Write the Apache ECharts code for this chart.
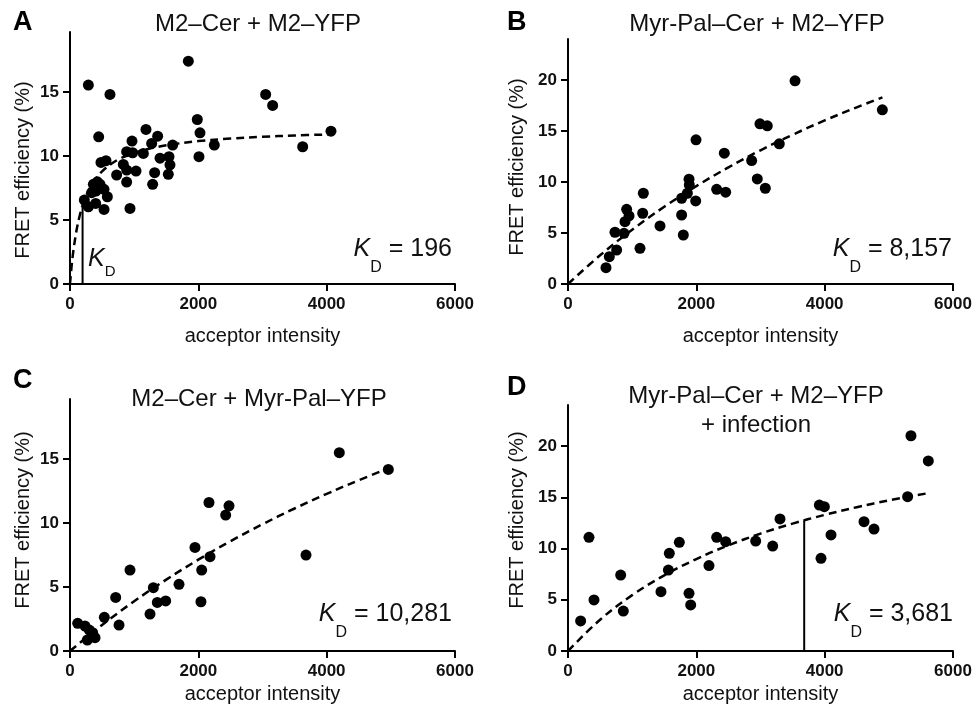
<!DOCTYPE html>
<html>
<head>
<meta charset="utf-8">
<script src="https://cdn.jsdelivr.net/npm/echarts@6/dist/echarts.min.js"></script>
<style>
html,body{margin:0;padding:0;background:#fff;}
#chart{width:976px;height:711px;}
</style>
</head>
<body>
<div id="chart"></div>
<script>
// ---------------- DATA ----------------
const panelLetters = ['A', 'B', 'C', 'D'];
const panelTitles = ['M2\u2013Cer + M2\u2013YFP', 'Myr-Pal\u2013Cer + M2\u2013YFP', 'M2\u2013Cer + Myr-Pal\u2013YFP', 'Myr-Pal\u2013Cer + M2\u2013YFP\n+ infection'];
const kdLabels = ['196', '8,157', '10,281', '3,681'];
const xTicks = [0, 2000, 4000, 6000];
const yTicksAC = [0, 5, 10, 15];
const yTicksBD = [0, 5, 10, 15, 20];
const xAxisTitle = 'acceptor intensity';
const yAxisTitle = 'FRET efficiency (%)';

// acceptor intensity, FRET efficiency (%)
const pointsA = [
  [286,15.55],[623,14.82],[1844,17.42],[3049,14.82],[3158,13.96],[4067,11.95],[3626,10.73],
  [1984,12.86],[2026,11.82],[2010,9.95],[2249,10.86],[1600,10.86],[1543,9.95],[1558,9.32],
  [1532,8.57],[1403,9.84],[1366,11.56],[1273,10.99],[1184,12.08],[1143,10.21],[1319,8.70],
  [1288,7.79],[966,11.17],[976,10.26],[883,10.34],[1029,8.83],[831,9.35],[883,8.91],
  [727,8.52],[883,7.97],[935,5.91],[447,11.51],[483,9.50],[561,9.64],[530,5.83],
  [582,6.82],[530,7.40],[468,7.79],[364,7.79],[405,7.27],[338,7.14],[400,6.30],
  [286,6.04],[223,6.56],[426,7.99]
];
const pointsB = [
  [592,1.6],[644,2.68],[758,3.33],[732,5.07],[873,4.97],[888,6.11],[914,7.32],[951,6.67],
  [1122,3.5],[1164,6.93],[1174,8.89],[1434,5.69],[1771,6.76],[1797,4.8],[1771,8.4],
  [1860,8.89],[1891,9.71],[1886,10.26],[1990,8.14],[1995,14.12],[2317,9.28],[2457,8.99],
  [2436,12.81],[2862,12.09],[2950,10.29],[3075,9.38],[2992,15.69],[3106,15.49],[3293,13.73],
  [3538,19.9],[4899,17.06]
];
const pointsC = [
  [120,2.16],[234,1.95],[301,1.64],[353,1.43],[270,0.86],[390,1.04],[535,2.63],[712,4.19],
  [764,2.03],[935,6.33],[1247,2.89],[1299,4.95],[1361,3.8],[1491,3.91],[1699,5.21],
  [1948,8.1],[2052,6.33],[2041,3.85],[2182,7.37],[2166,11.61],[2426,10.63],[2478,11.35],
  [3678,7.5],[4197,15.5],[4961,14.19]
];
const pointsD = [
  [197,2.93],[327,11.09],[405,4.98],[821,7.41],[862,3.9],[1449,5.79],[1564,7.9],[1579,9.53],
  [1735,10.6],[1886,5.63],[1912,4.49],[2197,8.33],[2317,11.09],[2457,10.67],[2925,10.73],
  [3190,10.24],[3304,12.88],[3917,14.24],[3995,14.08],[3943,9.04],[4099,11.32],[4613,12.62],
  [4769,11.9],[5293,15.06],[5345,21.0],[5615,18.54]
];

// dashed saturation-fit curves
const curveA = [
  [0,0],[25,1.39],[50,2.49],[100,4.14],[150,5.32],[196,6.13],[250,6.87],[300,7.42],[400,8.23],
  [500,8.81],[650,9.42],[800,9.85],[1000,10.25],[1200,10.54],[1500,10.84],[2000,11.17],
  [2500,11.37],[3000,11.51],[3500,11.61],[4100,11.70]
];
const curveB = [
  [0,0],[500,2.81],[1000,5.32],[1500,7.56],[2000,9.59],[2500,11.42],[3000,13.10],[3500,14.62],
  [4000,16.02],[4500,17.31],[4900,18.28]
];
const curveC = [
  [0,0],[500,2.03],[1000,3.89],[1500,5.58],[2000,7.14],[2500,8.58],[3000,9.91],[3500,11.14],
  [4000,12.28],[4500,13.35],[4950,14.25]
];
const curveD = [
  [0,0],[500,3.05],[1000,5.45],[1500,7.38],[2000,8.97],[2500,10.31],[3000,11.45],[3500,12.43],
  [4000,13.28],[4500,14.03],[5000,14.69],[5640,15.43]
];
// vertical K_D markers
const kdLineA = [[196,0],[196,6.13]];
const kdLineD = [[3681,0],[3681,12.75]];

// ---------------- LAYOUT ----------------
const FONT = '"Liberation Sans", Arial, Helvetica, sans-serif';
const grids = [
  {left:70, top:32, width:385, height:252, ymax:19.7, yticks:yTicksAC},
  {left:568, top:39, width:385, height:245, ymax:24, yticks:yTicksBD},
  {left:70, top:399, width:385, height:252, ymax:19.7, yticks:yTicksAC},
  {left:568, top:405, width:385, height:246, ymax:24, yticks:yTicksBD}
];
const points = [pointsA, pointsB, pointsC, pointsD];
const curves = [curveA, curveB, curveC, curveD];
const kdLines = [kdLineA, null, null, kdLineD];

const axisLine = {show:true, onZero:false, lineStyle:{color:'#000', width:2}};
const axisTick = {show:true, inside:false, length:7, lineStyle:{color:'#000', width:2}};
const labelStyle = {color:'#111', fontFamily:FONT, fontWeight:'bold', fontSize:17, formatter:(v) => String(v)};

const option = {
  backgroundColor:'#fff',
  animation:false,
  grid: grids.map(g => ({left:g.left, top:g.top, width:g.width, height:g.height, containLabel:false})),
  xAxis: grids.map((g,i) => ({
    type:'value', gridIndex:i, min:0, max:6000, interval:2000,
    axisLine, splitLine:{show:false},
    axisTick:Object.assign({customValues:xTicks}, axisTick),
    axisLabel:Object.assign({margin:12, customValues:xTicks}, labelStyle)
  })),
  yAxis: grids.map((g,i) => ({
    type:'value', gridIndex:i, min:0, max:g.ymax,
    axisLine, splitLine:{show:false},
    axisTick:Object.assign({customValues:g.yticks}, axisTick),
    axisLabel:Object.assign({margin:11, customValues:g.yticks}, labelStyle)
  })),
  series: [],
  graphic: []
};

for (let i = 0; i < 4; i++) {
  option.series.push({
    type:'line', xAxisIndex:i, yAxisIndex:i, data:curves[i], showSymbol:false, symbol:'none',
    smooth:0.4, z:2,
    lineStyle:{color:'#000', width:2.5, type:[8,5], opacity:1}
  });
  if (kdLines[i]) {
    option.series.push({
      type:'line', xAxisIndex:i, yAxisIndex:i, data:kdLines[i], symbol:'none', z:2,
      lineStyle:{color:'#000', width:2, opacity:1}
    });
  }
  option.series.push({
    type:'scatter', xAxisIndex:i, yAxisIndex:i, data:points[i], symbol:'circle', symbolSize:11, z:3,
    itemStyle:{color:'#000', opacity:1}
  });
}

// texts
const letterPos = [[13,23],[507,23],[13,381],[507,388]];
const titlePos = [[258,24],[757,24],[259,399],[756,411]];
const xTitleY = [336,336,694,694];
const yTitlePos = [[23,170],[517,167],[23,520],[517,520]];
const kdPos = [[452,258],[952,258],[452,623],[953,623]];

for (let i = 0; i < 4; i++) {
  const g = grids[i];
  option.graphic.push({type:'text', x:letterPos[i][0], y:letterPos[i][1],
    style:{text:panelLetters[i], font:'bold 27px ' + FONT, fill:'#000', textAlign:'left', textVerticalAlign:'middle'}});
  option.graphic.push({type:'text', x:titlePos[i][0], y:titlePos[i][1],
    style:{text:panelTitles[i], font:'24px ' + FONT, fill:'#111', textAlign:'center', textVerticalAlign:'middle', lineHeight:29}});
  option.graphic.push({type:'text', x:g.left + g.width/2, y:xTitleY[i],
    style:{text:xAxisTitle, font:'20px ' + FONT, fill:'#111', textAlign:'center', textVerticalAlign:'middle'}});
  option.graphic.push({type:'text', x:yTitlePos[i][0], y:yTitlePos[i][1], rotation:Math.PI/2,
    style:{text:yAxisTitle, font:'20px ' + FONT, fill:'#111', textAlign:'center', textVerticalAlign:'middle'}});
  // K_D = value
  option.graphic.push({type:'text', x:kdPos[i][0], y:kdPos[i][1] - 21,
    style:{
      text:'{k|K}{d|D}{n| = ' + kdLabels[i] + '}',
      fill:'#111', textAlign:'right', textVerticalAlign:'top', font:'25px ' + FONT,
      rich:{
        k:{fontFamily:FONT, fontSize:25, fontStyle:'italic', lineHeight:25, verticalAlign:'top'},
        d:{fontFamily:FONT, fontSize:16, lineHeight:16, verticalAlign:'top', padding:[23,0,0,0]},
        n:{fontFamily:FONT, fontSize:25, lineHeight:25, verticalAlign:'top'}
      }
    }});
}
// small K_D label next to the vertical line in panel A
option.graphic.push({type:'text', x:88, y:268 - 21,
  style:{
    text:'{k|K}{d|D}', fill:'#111', textAlign:'left', textVerticalAlign:'top', font:'25px ' + FONT,
    rich:{
      k:{fontFamily:FONT, fontSize:25, fontStyle:'italic', lineHeight:25, verticalAlign:'top'},
      d:{fontFamily:FONT, fontSize:15, lineHeight:15, verticalAlign:'top', padding:[17,0,0,0]}
    }
  }});

const chart = echarts.init(document.getElementById('chart'), null, {renderer:'canvas'});
chart.setOption(option);
</script>
</body>
</html>
